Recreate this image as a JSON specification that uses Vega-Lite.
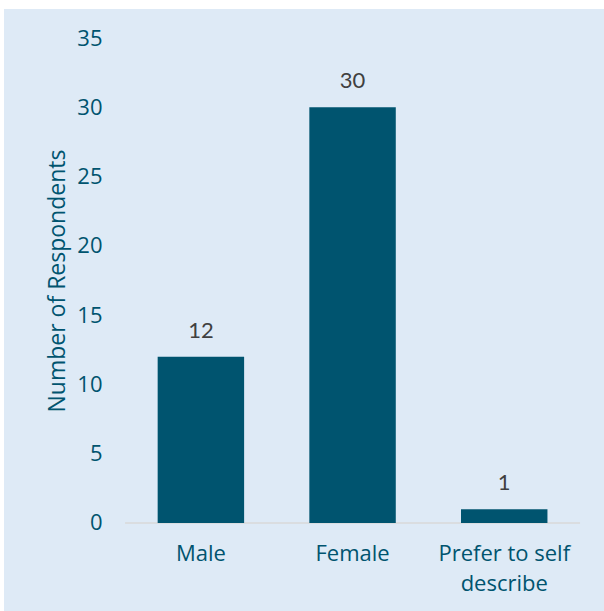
{
  "$schema": "https://vega.github.io/schema/vega-lite/v6.json",
  "width": 600,
  "height": 602,
  "autosize": {"type": "none"},
  "padding": {"left": 4, "top": 9, "right": 0, "bottom": 0},
  "background": "#FFFFFF",
  "config": {
    "view": {"stroke": null, "fill": "#DEEAF6"},
    "font": "Open Sans"
  },
  "data": {
    "values": [
      {"gender": "Male", "respondents": 12},
      {"gender": "Female", "respondents": 30},
      {"gender": "Prefer to self describe", "respondents": 1}
    ]
  },
  "layer": [
    {
      "mark": {"type": "rule", "color": "#D9D9D9", "strokeWidth": 1.5},
      "data": {"values": [{"start": "Male", "end": "Prefer to self describe"}]},
      "encoding": {
        "x": {"field": "start", "type": "nominal", "bandPosition": -0.377},
        "x2": {"field": "end", "bandPosition": 1.377},
        "y": {"datum": 0}
      }
    },
    {
      "mark": {"type": "bar", "color": "#00546F"},
      "encoding": {
        "x": {
          "field": "gender",
          "type": "nominal",
          "scale": {
            "domain": ["Male", "Female", "Prefer to self describe"],
            "paddingInner": 0.43,
            "paddingOuter": 0.693,
            "align": 0.731
          },
          "axis": {
            "title": null,
            "bandPosition": 0.5,
            "labelAngle": 0,
            "labelAlign": "center",
            "labelBaseline": "top",
            "domain": false,
            "ticks": false,
            "offset": -88,
            "labelPadding": 20,
            "labelFontSize": 22,
            "labelColor": "#00546F",
            "labelLineHeight": 30,
            "labelExpr": "datum.value == 'Prefer to self describe' ? ['Prefer to self', 'describe'] : datum.label"
          }
        },
        "y": {
          "field": "respondents",
          "type": "quantitative",
          "scale": {"domain": [-6.351, 37.093], "nice": false, "zero": false},
          "axis": {
            "title": "Number of Respondents",
            "values": [0, 5, 10, 15, 20, 25, 30, 35],
            "grid": false,
            "domain": false,
            "ticks": false,
            "offset": -98,
            "labelPadding": 0,
            "labelFontSize": 22,
            "labelColor": "#00546F",
            "titleFontSize": 23,
            "titleFontWeight": "normal",
            "titleColor": "#00546F",
            "titlePadding": 7,
            "titleY": 271.5
          }
        }
      }
    },
    {
      "mark": {
        "type": "text",
        "baseline": "alphabetic",
        "dy": -19,
        "font": "Lato",
        "fontSize": 22,
        "color": "#404040"
      },
      "encoding": {
        "x": {"field": "gender", "type": "nominal"},
        "y": {"field": "respondents", "type": "quantitative"},
        "text": {"field": "respondents", "type": "quantitative"}
      }
    }
  ]
}
